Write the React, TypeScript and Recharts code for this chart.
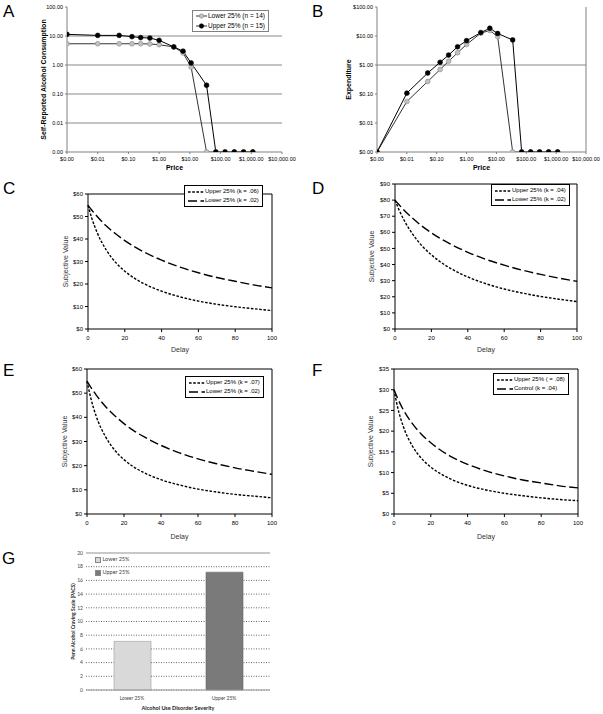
import React from "react";
import {
  LineChart,
  Line,
  XAxis,
  YAxis,
  ReferenceLine,
  Legend,
  BarChart,
  Bar,
  Cell,
  CartesianGrid,
} from "recharts";

const FONT = "'Liberation Sans', Arial, sans-serif";
const FONT_G = "Lato, 'Liberation Sans', sans-serif";

// Panels A/B: purchase task
const prices = [0, 0.01, 0.05, 0.13, 0.25, 0.5, 1, 3, 6, 11, 35, 70, 140, 280, 560, 1120];
const consLower = [5.4, 5.4, 5.4, 5.4, 5.4, 5.3, 5.0, 4.2, 2.6, 0.85, 0, 0, 0, 0, 0, 0];
const consUpper = [11.4, 10.5, 10.5, 9.5, 8.8, 8.5, 7.1, 4.2, 3.0, 1.17, 0.2, 0, 0, 0, 0, 0];
const expLower = [0, 0.055, 0.27, 0.7, 1.35, 2.65, 5.1, 12.6, 15.5, 9.5, 0, 0, 0, 0, 0, 0];
const expUpper = [0, 0.107, 0.53, 1.24, 2.2, 4.25, 6.9, 13.1, 18.5, 12.2, 7.3, 0, 0, 0, 0, 0];
const priceTicks = [0.001, 0.01, 0.1, 1, 10, 100, 1000, 10000];
const logTicks = [0.001, 0.01, 0.1, 1, 10, 100];

// Panels C-F: delay discounting
const delays = [0, 2, 5, 10, 15, 20, 25, 30, 40, 50, 60, 70, 80, 90, 100];
const cUpper = [55, 49.4, 42.8, 35.0, 29.6, 25.7, 22.7, 20.3, 16.8, 14.3, 12.4, 11.0, 9.9, 9.0, 8.2];
const cLower = [55, 52.9, 50.0, 45.8, 42.3, 39.3, 36.7, 34.4, 30.6, 27.5, 25.0, 22.9, 21.2, 19.6, 18.3];
const dUpper = [80, 74.5, 67.5, 58.4, 51.4, 46.0, 41.6, 37.9, 32.3, 28.1, 24.8, 22.3, 20.2, 18.5, 17.0];
const dLower = [80, 77.4, 73.7, 68.4, 63.7, 59.7, 56.1, 53.0, 47.6, 43.2, 39.6, 36.5, 33.9, 31.6, 29.6];
const eUpper = [55, 48.1, 40.4, 32.0, 26.4, 22.5, 19.6, 17.4, 14.2, 12.0, 10.3, 9.1, 8.1, 7.4, 6.7];
const eLower = [55, 52.5, 49.2, 44.5, 40.7, 37.4, 34.6, 32.3, 28.4, 25.3, 22.8, 20.8, 19.1, 17.7, 16.4];
const fUpper = [30, 25.7, 21.2, 16.4, 13.4, 11.3, 9.8, 8.6, 6.9, 5.8, 5.0, 4.4, 3.9, 3.5, 3.2];
const fControl = [30, 27.9, 25.2, 21.8, 19.2, 17.2, 15.5, 14.1, 12.0, 10.4, 9.2, 8.2, 7.5, 6.8, 6.3];
const delayTicks = [0, 20, 40, 60, 80, 100];
const ticks60 = [0, 10, 20, 30, 40, 50, 60];
const ticks90 = [0, 10, 20, 30, 40, 50, 60, 70, 80, 90];
const ticks35 = [0, 5, 10, 15, 20, 25, 30, 35];

// Panel G: craving
const groups = ["Lower 25%", "Upper 25%"];
const pacs = [7.1, 17.2];
const groupColors = ["#d9d9d9", "#7a7a7a"];
const cravingTicks = [0, 2, 4, 6, 8, 10, 12, 14, 16, 18, 20];

// log axes can't show 0, the original plots zeros on the axis floor
const FLOOR = 0.001;
const lg = (v: number) => (v === 0 ? FLOOR : v);

const demandRows = prices.map((p, i) => ({ price: lg(p), lower: lg(consLower[i]), upper: lg(consUpper[i]) }));
const expRows = prices.map((p, i) => ({ price: lg(p), lower: lg(expLower[i]), upper: lg(expUpper[i]) }));
const cravingRows = groups.map((g, i) => ({ group: g, pacs: pacs[i] }));

const money = (v: number) =>
  "$" + v.toLocaleString("en-US", { minimumFractionDigits: 2, maximumFractionDigits: 2 });
const plain = (v: number) => v.toFixed(2);
const dollars = (v: number) => "$" + v;

function PanelLetter({ ch, x, y }: { ch: string; x: number; y: number }) {
  return (
    <div style={{ position: "absolute", left: x, top: y, fontSize: 17, lineHeight: "17px", fontFamily: FONT }}>
      {ch}
    </div>
  );
}

function MarkerLegend() {
  const items = [
    { label: "Lower 25% (n = 14)", fill: "#c0c0c0", stroke: "#8a8a8a" },
    { label: "Upper 25% (n = 15)", fill: "#000", stroke: "#000" },
  ];
  return (
    <div style={{ border: "1px solid #808080", background: "#fff", padding: "0 3px", fontSize: 6.5, lineHeight: "10px", fontFamily: FONT }}>
      {items.map((it) => (
        <div key={it.label} style={{ display: "flex", alignItems: "center", whiteSpace: "nowrap" }}>
          <svg width={11} height={6} style={{ marginRight: 1 }}>
            <line x1={0} y1={3} x2={11} y2={3} stroke="#333" strokeWidth={1} />
            <circle cx={5.5} cy={3} r={2.2} fill={it.fill} stroke={it.stroke} strokeWidth={0.6} />
          </svg>
          {it.label}
        </div>
      ))}
    </div>
  );
}

const UPPER_DASH = "2.6 1.6";
const LOWER_DASH = "9 3.5";

function DashLegend({ names }: { names: [string, string] }) {
  const items = [
    { label: names[0], dash: UPPER_DASH },
    { label: names[1], dash: LOWER_DASH },
  ];
  return (
    <div style={{ border: "1px solid #000", background: "#fff", padding: "1px 3px", fontSize: 6, lineHeight: "9px", fontFamily: FONT }}>
      {items.map((it) => (
        <div key={it.label} style={{ display: "flex", alignItems: "center", whiteSpace: "nowrap" }}>
          <svg width={16} height={4} style={{ marginRight: 1 }}>
            <line x1={0} y1={2} x2={16} y2={2} stroke="#000" strokeWidth={1.4} strokeDasharray={it.dash} />
          </svg>
          {it.label}
        </div>
      ))}
    </div>
  );
}

function CravingLegend() {
  return (
    <div style={{ fontFamily: FONT_G, fontSize: 5.5, lineHeight: "13px", color: "#444" }}>
      {groups.map((g, i) => (
        <div key={g} style={{ display: "flex", alignItems: "center", whiteSpace: "nowrap" }}>
          <span
            style={{
              display: "inline-block",
              width: 4,
              height: 4,
              marginRight: 1.5,
              background: groupColors[i],
              border: "0.5px solid #888",
            }}
          />
          {g}
        </div>
      ))}
    </div>
  );
}

interface DemandPanelProps {
  x: number;
  rows: { price: number; lower: number; upper: number }[];
  width: number;
  margin: { top: number; right: number; left: number; bottom: number };
  yWidth: number;
  yLabel: string;
  yFormat: (v: number) => string;
  grid: number[];
  legend?: boolean;
  border?: boolean;
}

function DemandPanel({ x, rows, width, margin, yWidth, yLabel, yFormat, grid, legend, border }: DemandPanelProps) {
  const tick = { fontSize: 5.5, fill: "#000", fontFamily: FONT };
  return (
    <div style={{ position: "absolute", left: x, top: 0 }}>
      <LineChart width={width} height={175} data={rows} margin={margin}>
        <XAxis
          dataKey="price"
          type="number"
          scale="log"
          domain={[0.001, 10000]}
          ticks={priceTicks}
          interval={0}
          tickFormatter={money}
          allowDataOverflow
          height={23}
          tick={tick}
          tickSize={2}
          tickMargin={3}
          stroke="#808080"
          label={{ value: "Price", position: "insideBottom", offset: 5, fontSize: 7, fontWeight: "bold", fill: "#000", fontFamily: FONT }}
        />
        <YAxis
          type="number"
          scale="log"
          domain={[0.001, 100]}
          ticks={logTicks}
          interval={0}
          tickFormatter={yFormat}
          allowDataOverflow
          width={yWidth}
          tick={tick}
          tickSize={2}
          tickMargin={2}
          stroke="#808080"
          label={{
            value: yLabel,
            angle: -90,
            position: "insideLeft",
            offset: 6,
            fontSize: 7,
            fontWeight: "bold",
            fill: "#000",
            fontFamily: FONT,
            style: { textAnchor: "middle" },
          }}
        />
        {grid.map((g) => (
          <ReferenceLine key={g} y={g} stroke="#c4c4c4" strokeWidth={2} />
        ))}
        {border && <ReferenceLine x={10000} stroke="#808080" />}
        <Line
          dataKey="lower"
          stroke="#333"
          strokeWidth={1}
          dot={{ r: 2.4, fill: "#c0c0c0", stroke: "#8a8a8a", strokeWidth: 0.6 }}
          isAnimationActive={false}
        />
        <Line
          dataKey="upper"
          stroke="#000"
          strokeWidth={1}
          dot={{ r: 2.4, fill: "#000", stroke: "#000", strokeWidth: 0.6 }}
          isAnimationActive={false}
        />
        {legend && (
          <Legend
            layout="horizontal"
            verticalAlign="middle"
            align="center"
            wrapperStyle={{ left: 192, top: 10, width: "auto" }}
            content={() => <MarkerLegend />}
          />
        )}
      </LineChart>
    </div>
  );
}

interface DiscountPanelProps {
  x: number;
  y: number;
  width: number;
  height: number;
  margin: { top: number; right: number; left: number; bottom: number };
  yWidth: number;
  xHeight: number;
  delayOffset: number;
  yTicks: number[];
  upper: number[];
  lower: number[];
  names: [string, string];
  legendPos: { left: number; top: number };
}

function DiscountPanel(p: DiscountPanelProps) {
  const rows = delays.map((d, i) => ({ delay: d, upper: p.upper[i], lower: p.lower[i] }));
  const yMax = p.yTicks[p.yTicks.length - 1];
  const tick = { fontSize: 6, fill: "#000", fontFamily: FONT };
  return (
    <div style={{ position: "absolute", left: p.x, top: p.y }}>
      <LineChart width={p.width} height={p.height} data={rows} margin={p.margin}>
        <XAxis
          dataKey="delay"
          type="number"
          domain={[0, 100]}
          ticks={delayTicks}
          interval={0}
          height={p.xHeight}
          tick={tick}
          tickSize={3}
          tickMargin={4}
          stroke="#000"
          label={{ value: "Delay", position: "insideBottom", offset: p.delayOffset, fontSize: 7, fill: "#333", fontFamily: FONT }}
        />
        <YAxis
          type="number"
          domain={[0, yMax]}
          ticks={p.yTicks}
          interval={0}
          tickFormatter={dollars}
          width={p.yWidth}
          tick={tick}
          tickSize={3}
          tickMargin={2}
          stroke="#000"
          label={{
            value: "Subjective Value",
            angle: -90,
            position: "insideLeft",
            offset: 6,
            fontSize: 7,
            fill: "#333",
            fontFamily: FONT,
            style: { textAnchor: "middle" },
          }}
        />
        <ReferenceLine y={yMax} stroke="#000" />
        <ReferenceLine x={100} stroke="#000" />
        <Line
          type="monotone"
          dataKey="upper"
          stroke="#000"
          strokeWidth={1.4}
          strokeDasharray={UPPER_DASH}
          dot={false}
          isAnimationActive={false}
        />
        <Line
          type="monotone"
          dataKey="lower"
          stroke="#000"
          strokeWidth={1.4}
          strokeDasharray={LOWER_DASH}
          dot={false}
          isAnimationActive={false}
        />
        <Legend
          layout="horizontal"
          verticalAlign="middle"
          align="center"
          wrapperStyle={{ left: p.legendPos.left, top: p.legendPos.top, width: "auto" }}
          content={() => <DashLegend names={p.names} />}
        />
      </LineChart>
    </div>
  );
}

function CravingPanel() {
  return (
    <div style={{ position: "absolute", left: 0, top: 545 }}>
      <BarChart width={290} height={169} data={cravingRows} margin={{ top: 8, right: 20, left: 67, bottom: 0 }}>
        <CartesianGrid vertical={false} strokeDasharray="1 1.5" stroke="#666" />
        <XAxis
          dataKey="group"
          height={24}
          tickLine={false}
          tickSize={0}
          tickMargin={6}
          axisLine={{ stroke: "#999" }}
          tick={{ fontSize: 5, fill: "#444", fontFamily: FONT_G }}
          label={{
            value: "Alcohol Use Disorder Severity",
            position: "insideBottom",
            offset: 4,
            fontSize: 5.5,
            fontWeight: "bold",
            fill: "#222",
            fontFamily: FONT_G,
          }}
        />
        <YAxis
          domain={[0, 20]}
          ticks={cravingTicks}
          interval={0}
          width={19}
          axisLine={false}
          tickLine={false}
          tickSize={0}
          tickMargin={3}
          tick={{ fontSize: 5, fill: "#444", fontFamily: FONT_G }}
          label={{
            value: "Penn Alcohol Craving Scale (PACS)",
            angle: -90,
            position: "insideLeft",
            offset: 6,
            fontSize: 5,
            fontWeight: "bold",
            fill: "#222",
            fontFamily: FONT_G,
            style: { textAnchor: "middle" },
          }}
        />
        <ReferenceLine y={20} stroke="#c8c8c8" strokeWidth={2} />
        <Bar dataKey="pacs" barSize={37} isAnimationActive={false}>
          {cravingRows.map((r, i) => (
            <Cell key={r.group} fill={groupColors[i]} stroke={i === 0 ? "#a0a0a0" : "#666"} strokeWidth={0.6} />
          ))}
        </Bar>
        <Legend
          layout="horizontal"
          verticalAlign="middle"
          align="center"
          wrapperStyle={{ left: 95, top: 8, width: "auto" }}
          content={() => <CravingLegend />}
        />
      </BarChart>
    </div>
  );
}

export default function App() {
  return (
    <div style={{ position: "absolute", left: 0, top: 0, width: 603, height: 714, background: "#fff", fontFamily: FONT }}>
      <DemandPanel
        x={0}
        rows={demandRows}
        width={298}
        margin={{ top: 7, right: 16, left: 38, bottom: 0 }}
        yWidth={29}
        yLabel="Self-Reported Alcohol Consumption"
        yFormat={plain}
        grid={[0.01, 0.1, 1, 10]}
        legend
      />
      <DemandPanel
        x={300}
        rows={expRows}
        width={303}
        margin={{ top: 7, right: 17, left: 43, bottom: 0 }}
        yWidth={34}
        yLabel="Expenditure"
        yFormat={money}
        grid={[1]}
        border
      />
      <DiscountPanel
        x={0}
        y={175}
        width={290}
        height={180}
        margin={{ top: 19, right: 18, left: 60, bottom: 0 }}
        yWidth={28}
        xHeight={26}
        delayOffset={3.5}
        yTicks={ticks60}
        upper={cUpper}
        lower={cLower}
        names={["Upper 25% (k = .06)", "Lower 25% (k = .02)"]}
        legendPos={{ left: 184, top: 10 }}
      />
      <DiscountPanel
        x={300}
        y={175}
        width={295}
        height={180}
        margin={{ top: 9, right: 18, left: 66, bottom: 0 }}
        yWidth={29}
        xHeight={26}
        delayOffset={3.5}
        yTicks={ticks90}
        upper={dUpper}
        lower={dLower}
        names={["Upper 25% (k = .04)", "Lower 25% (k = .02)"]}
        legendPos={{ left: 191, top: 9 }}
      />
      <DiscountPanel
        x={0}
        y={345}
        width={290}
        height={200}
        margin={{ top: 24, right: 18, left: 59, bottom: 0 }}
        yWidth={28}
        xHeight={31}
        delayOffset={6.5}
        yTicks={ticks60}
        upper={eUpper}
        lower={eLower}
        names={["Upper 25% (k = .07)", "Lower 25% (k = .02)"]}
        legendPos={{ left: 185, top: 31 }}
      />
      <DiscountPanel
        x={300}
        y={345}
        width={295}
        height={200}
        margin={{ top: 24, right: 17, left: 65, bottom: 0 }}
        yWidth={29}
        xHeight={31}
        delayOffset={6.5}
        yTicks={ticks35}
        upper={fUpper}
        lower={fControl}
        names={["Upper 25% ( = .08)", "Control (k = .04)"]}
        legendPos={{ left: 193, top: 28 }}
      />
      <CravingPanel />
      <PanelLetter ch="A" x={3} y={3} />
      <PanelLetter ch="B" x={312} y={3} />
      <PanelLetter ch="C" x={3} y={180} />
      <PanelLetter ch="D" x={312} y={180} />
      <PanelLetter ch="E" x={3} y={362} />
      <PanelLetter ch="F" x={312} y={362} />
      <PanelLetter ch="G" x={2} y={550} />
    </div>
  );
}
